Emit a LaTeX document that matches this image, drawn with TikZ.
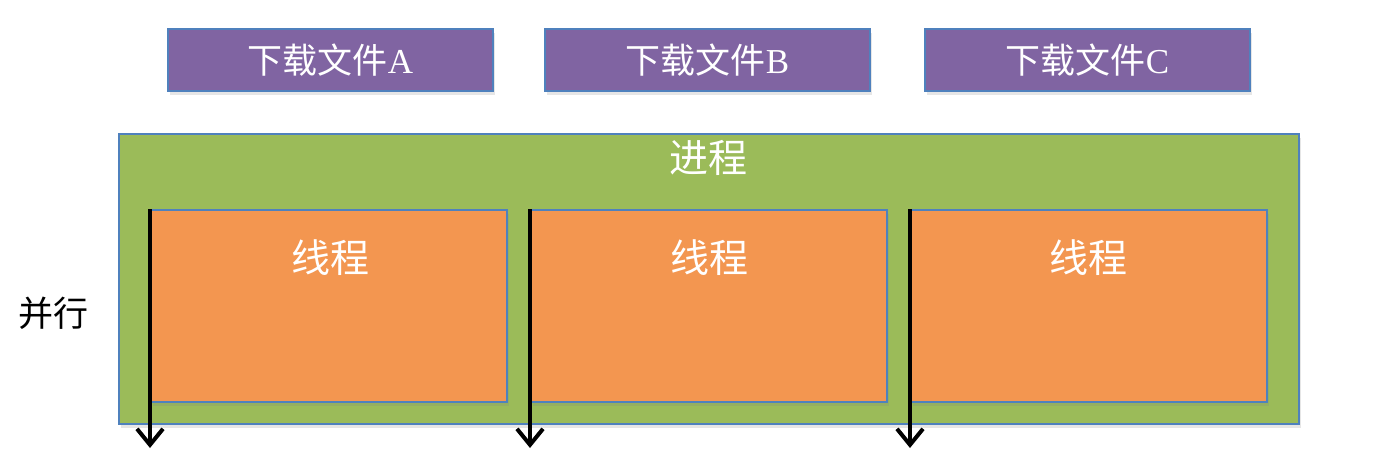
\documentclass[tikz,border=0pt]{standalone}
\usepackage{fontspec}
\setmainfont{Liberation Serif}
\newfontfamily\cjk{Noto Sans CJK SC}
\usetikzlibrary{arrows.meta,shadows}
\definecolor{pur}{HTML}{8064A2}
\definecolor{bord}{HTML}{4F81BD}
\definecolor{grn}{HTML}{9BBB59}
\definecolor{org}{HTML}{F39650}
\begin{document}
\begin{tikzpicture}[x=1pt,y=-1pt,
  shad/.style={drop shadow={shadow xshift=2pt,shadow yshift=-4pt,opacity=0.2}},
  filebox/.style={draw=bord,line width=2pt,fill=pur,minimum width=325pt,minimum height=62pt,anchor=north west,inner sep=0pt,
     shad,text=white,font=\fontsize{35}{37}\selectfont},
  procbox/.style={draw=bord,line width=2pt,fill=grn,minimum width=1180pt,minimum height=290pt,anchor=north west,inner sep=0pt,shad},
  thrbox/.style={draw=bord,line width=2pt,fill=org,minimum width=356pt,minimum height=192pt,anchor=north west,inner sep=0pt,shad},
  wtext/.style={text=white,font=\cjk\fontsize{39}{41}\selectfont},
  timeline/.style={line width=4pt,-{Straight Barb[length=16pt,width=26pt,line width=4pt]}}]
\useasboundingbox (0,0) rectangle (1382,458);
\node[filebox] (fa) at (167,28) {{\cjk 下载文件}A};
\node[filebox] (fb) at (544,28) {{\cjk 下载文件}B};
\node[filebox] (fc) at (924,28) {{\cjk 下载文件}C};
\node[procbox] (proc) at (118,133) {};
\node[wtext] (proclab) at (708,158) {进程};
\node[thrbox] (t1) at (150,209) {};
\node[thrbox] (t2) at (530,209) {};
\node[thrbox] (t3) at (910,209) {};
\node[wtext] (l1) at (330,258) {线程};
\node[wtext] (l2) at (709,258) {线程};
\node[wtext] (l3) at (1088,258) {线程};
\coordinate (e1) at (150,448);
\coordinate (e2) at (530,448);
\coordinate (e3) at (910,448);
\draw[timeline] (t1.north west) -- (e1);
\draw[timeline] (t2.north west) -- (e2);
\draw[timeline] (t3.north west) -- (e3);
\node[font=\cjk\fontsize{35}{37}\selectfont] (par) at (53,313) {并行};
\end{tikzpicture}
\end{document}
